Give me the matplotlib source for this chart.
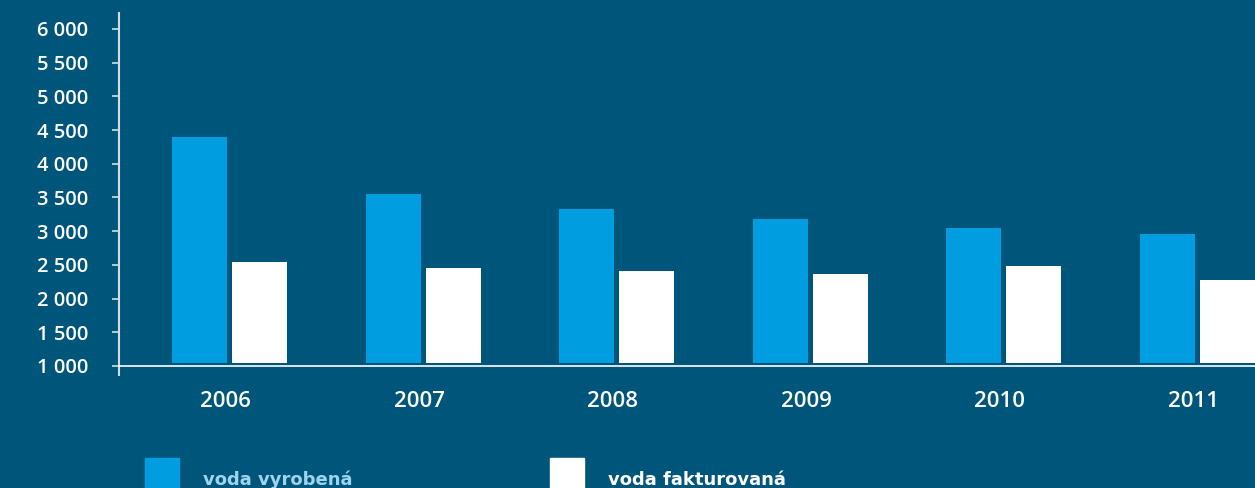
import matplotlib.pyplot as plt
from matplotlib.patches import Rectangle
from matplotlib.ticker import FuncFormatter
from matplotlib.transforms import ScaledTranslation
import numpy as np

years = ["2006", "2007", "2008", "2009", "2010", "2011"]
voda_vyrobena = [4400, 3550, 3330, 3180, 3050, 2960]
voda_fakturovana = [2545, 2455, 2410, 2365, 2485, 2280]
y_ticks = [1000, 1500, 2000, 2500, 3000, 3500, 4000, 4500, 5000, 5500, 6000]

BG = "#00557a"
BLUE = "#009ee0"
AXIS = "#d0dde5"
BASE = 1050
FONT = ["Open Sans", "DejaVu Sans"]

W, H = 1255, 488
fig = plt.figure(figsize=(W / 100, H / 100), dpi=100, facecolor=BG)
ax = fig.add_axes([119 / W, (H - 375) / H, 1 - 119 / W, (375 - 13) / H])
ax.set_facecolor(BG)

x = np.arange(len(years))
bw = 0.284
off = 0.155
ax.bar(x - off, np.array(voda_vyrobena) - BASE, bw, bottom=BASE, color=BLUE)
ax.bar(x + off, np.array(voda_fakturovana) - BASE, bw, bottom=BASE, color="white")

ax.set_xlim(-0.571, 5.297)
ax.set_ylim(866, 6237)

for s in ["top", "right"]:
    ax.spines[s].set_visible(False)
ax.spines["left"].set_color(AXIS)
ax.spines["left"].set_linewidth(1.5)
ax.spines["bottom"].set_color("white")
ax.spines["bottom"].set_linewidth(1.2)
ax.spines["bottom"].set_position(("data", 1000))

ax.set_yticks(y_ticks)
ax.yaxis.set_major_formatter(FuncFormatter(lambda v, p: f"{int(v):,}".replace(",", " ")))
ax.tick_params(axis="y", colors=AXIS, length=5, width=1.2, pad=17,
               labelsize=14.5, labelcolor="white")
for lbl in ax.get_yticklabels():
    lbl.set_family(FONT)
    lbl.set_fontweight("semibold")
ax.set_xticks(x)
ax.set_xticklabels(years, fontsize=16, color="white", fontweight="semibold", family=FONT)
ax.tick_params(axis="x", length=0, pad=18)
shift = ScaledTranslation(-4 / 100, 0, fig.dpi_scale_trans)
for lbl in ax.get_xticklabels():
    lbl.set_transform(lbl.get_transform() + shift)

# legend
fig.patches.append(Rectangle((145 / W, 0), 34 / W, 30 / H, transform=fig.transFigure,
                             color=BLUE))
fig.patches.append(Rectangle((550 / W, 0), 34 / W, 30 / H, transform=fig.transFigure,
                             color="white"))
fig.text(203 / W, 3 / H, "voda vyrobená", color="#9dd5f0", fontsize=13,
         fontweight="bold", va="baseline")
fig.text(608 / W, 3 / H, "voda fakturovaná", color="white", fontsize=13,
         fontweight="bold", va="baseline")

fig.savefig("out.png", dpi=100, facecolor=BG)
